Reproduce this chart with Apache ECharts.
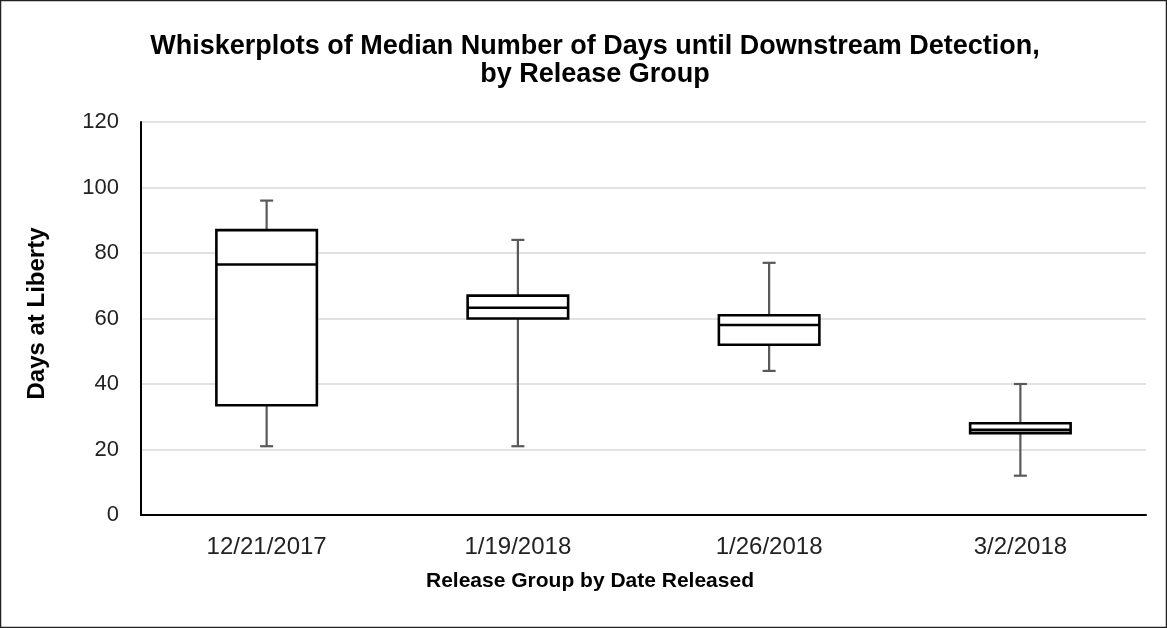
<!DOCTYPE html>
<html>
<head>
<meta charset="utf-8">
<script src="https://cdn.jsdelivr.net/npm/echarts@6/dist/echarts.min.js"></script>
<style>
html,body{margin:0;padding:0;background:#fff;}
#chart{width:1167px;height:628px;}
</style>
</head>
<body>
<div id="chart"></div>
<script>
const categories = ['12/21/2017', '1/19/2018', '1/26/2018', '3/2/2018'];
const mins    = [21, 21, 44, 12];
const q1s     = [33.5, 60, 52, 25];
const medians = [76.5, 63.3, 58, 26];
const q3s     = [87, 67, 61, 28];
const maxs    = [96, 84, 77, 40];
const yTicks  = [0, 20, 40, 60, 80, 100, 120];

const boxData = categories.map((c, i) => [i, mins[i], q1s[i], medians[i], q3s[i], maxs[i]]);

const chart = echarts.init(document.getElementById('chart'));
const FONT = 'Liberation Sans, Arial, sans-serif';

function renderBox(params, api) {
  const i = api.value(0);
  const band = api.size([1, 0])[0];
  const half = band * 0.2;
  const cap = 6.5;
  const pMin = api.coord([i, api.value(1)]);
  const pQ1 = api.coord([i, api.value(2)]);
  const pMed = api.coord([i, api.value(3)]);
  const pQ3 = api.coord([i, api.value(4)]);
  const pMax = api.coord([i, api.value(5)]);
  const x = pMed[0];
  const wStyle = { stroke: '#595959', lineWidth: 2.2 };
  const bStyle = { stroke: '#000', lineWidth: 2.6, fill: '#fff' };
  return {
    type: 'group',
    children: [
      { type: 'line', shape: { x1: x, y1: pMax[1], x2: x, y2: pQ3[1] }, style: wStyle },
      { type: 'line', shape: { x1: x, y1: pMin[1], x2: x, y2: pQ1[1] }, style: wStyle },
      { type: 'line', shape: { x1: x - cap, y1: pMax[1], x2: x + cap, y2: pMax[1] }, style: wStyle },
      { type: 'line', shape: { x1: x - cap, y1: pMin[1], x2: x + cap, y2: pMin[1] }, style: wStyle },
      { type: 'rect', shape: { x: x - half, y: pQ3[1], width: half * 2, height: pQ1[1] - pQ3[1] }, style: bStyle },
      { type: 'line', shape: { x1: x - half, y1: pMed[1], x2: x + half, y2: pMed[1] }, style: { stroke: '#000', lineWidth: 2.6 } }
    ]
  };
}

chart.setOption({
  animation: false,
  backgroundColor: '#fff',
  title: {
    text: 'Whiskerplots of Median Number of Days until Downstream Detection,\nby Release Group',
    left: 590,
    textAlign: 'center',
    top: 28,
    textStyle: { fontFamily: FONT, fontSize: 27, fontWeight: 'bold', color: '#000', lineHeight: 28 }
  },
  graphic: [{
    type: 'rect',
    shape: { x: 0.5, y: 0.5, width: 1166, height: 627 },
    style: { fill: 'none', stroke: '#222', lineWidth: 1.5 },
    silent: true
  }],
  grid: { left: 141, right: 21, top: 122, bottom: 113 },
  xAxis: {
    type: 'category',
    data: categories,
    boundaryGap: true,
    axisLine: { lineStyle: { color: '#000', width: 2 } },
    axisTick: { show: false },
    axisLabel: { fontFamily: FONT, fontSize: 24, color: '#222', margin: 20 },
    name: 'Release Group by Date Released',
    nameLocation: 'middle',
    nameGap: 56,
    nameTextStyle: { fontFamily: FONT, fontSize: 21, fontWeight: 'bold', color: '#000', padding: [0, 107, 0, 0] },
    splitLine: { show: false }
  },
  yAxis: {
    type: 'value',
    min: 0,
    max: 120,
    interval: 20,
    axisLine: { show: true, lineStyle: { color: '#000', width: 2 } },
    axisTick: { show: false },
    axisLabel: {
      fontFamily: FONT, fontSize: 22, color: '#222', margin: 22,
      formatter: v => (yTicks.indexOf(v) >= 0 ? String(v) : '')
    },
    splitLine: { show: true, lineStyle: { color: '#d9d9d9', width: 1.5 } },
    name: 'Days at Liberty',
    nameLocation: 'middle',
    nameGap: 92,
    nameTextStyle: { fontFamily: FONT, fontSize: 24, fontWeight: 'bold', color: '#000', padding: [0, 0, 0, 10] }
  },
  series: [{
    type: 'custom',
    renderItem: renderBox,
    data: boxData,
    encode: { x: 0, y: [1, 2, 3, 4, 5] },
    z: 3
  }]
});
</script>
</body>
</html>
